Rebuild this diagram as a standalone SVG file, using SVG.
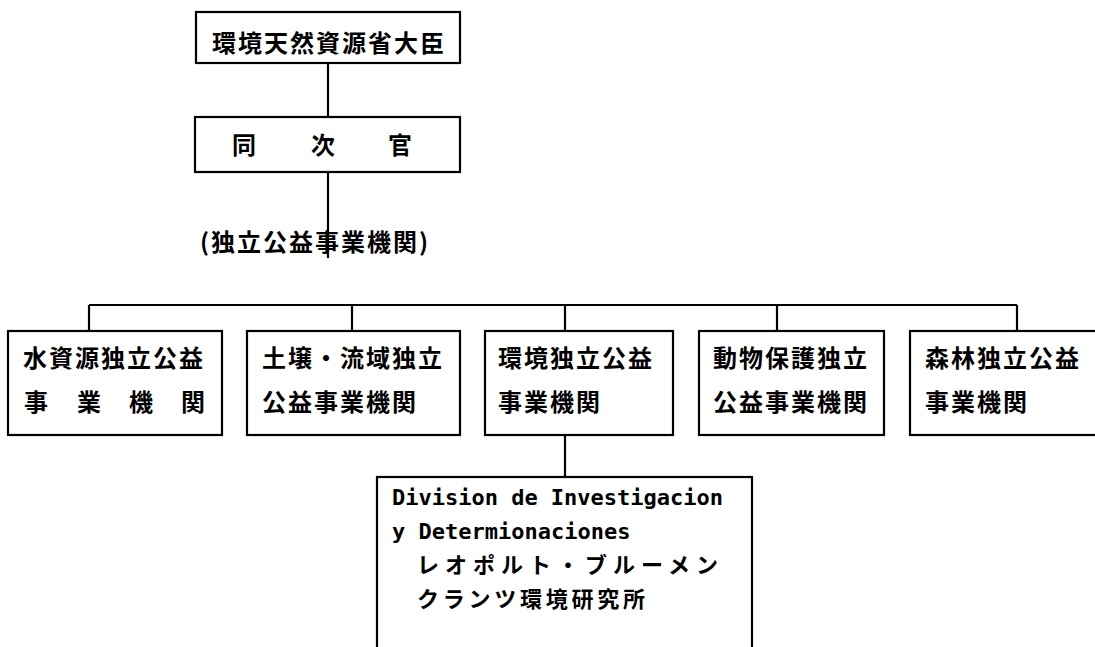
<svg xmlns="http://www.w3.org/2000/svg" width="1095" height="647" viewBox="0 0 1095 647">
<style>
.box{fill:#fff;stroke:#000;stroke-width:2.2}
.ln{stroke:#000;stroke-width:2.2;fill:none}
.jp{font-family:"Noto Sans CJK JP","Noto Sans CJK SC",sans-serif;font-size:24px;font-weight:700;letter-spacing:2px;fill:#000}
.jps{font-family:"Noto Sans CJK JP","Noto Sans CJK SC",sans-serif;font-size:22px;font-weight:700;fill:#000}
.lat{font-family:"DejaVu Sans Mono","Liberation Mono",monospace;font-size:22px;font-weight:700;fill:#000}
</style>
<rect width="1095" height="647" fill="#fff"/>
<g id="connectors">
<line class="ln" x1="328" y1="63" x2="328" y2="117"/>
<line class="ln" x1="328" y1="172" x2="328" y2="258"/>
<line class="ln" x1="89" y1="305" x2="1017" y2="305"/>
<line class="ln" x1="89" y1="305" x2="89" y2="331"/>
<line class="ln" x1="352" y1="305" x2="352" y2="331"/>
<line class="ln" x1="565" y1="305" x2="565" y2="331"/>
<line class="ln" x1="777" y1="305" x2="777" y2="331"/>
<line class="ln" x1="1017" y1="305" x2="1017" y2="331"/>
<line class="ln" x1="565" y1="435" x2="565" y2="477"/>
</g>
<g id="minister">
<rect class="box" x="196" y="12" width="264" height="51"/>
<text class="jp" x="212" y="52">環境天然資源省大臣</text>
</g>
<g id="vice">
<rect class="box" x="195" y="117" width="265" height="55"/>
<text class="jp" x="232 311 388" y="154" letter-spacing="0">同次官</text>
</g>
<g id="label">
<text class="jp" x="200" y="251">(独立公益事業機関)</text>
</g>
<g id="water">
<rect class="box" x="8" y="331" width="214" height="104"/>
<text class="jp" x="23" y="367">水資源独立公益</text>
<text class="jp" x="24 77 129 181" y="411" letter-spacing="0">事業機関</text>
</g>
<g id="soil">
<rect class="box" x="247" y="331" width="213" height="104"/>
<text class="jp" x="262" y="367">土壌・流域独立</text>
<text class="jp" x="262" y="411">公益事業機関</text>
</g>
<g id="env">
<rect class="box" x="485" y="331" width="188" height="104"/>
<text class="jp" x="498" y="367">環境独立公益</text>
<text class="jp" x="498" y="411">事業機関</text>
</g>
<g id="animal">
<rect class="box" x="699" y="331" width="185" height="104"/>
<text class="jp" x="713" y="367">動物保護独立</text>
<text class="jp" x="713" y="411">公益事業機関</text>
</g>
<g id="forest">
<rect class="box" x="910" y="331" width="190" height="104"/>
<text class="jp" x="925" y="367">森林独立公益</text>
<text class="jp" x="925" y="411">事業機関</text>
</g>
<g id="division">
<rect class="box" x="377" y="477" width="375" height="200"/>
<text class="lat" x="392" y="505" textLength="331" lengthAdjust="spacingAndGlyphs">Division de Investigacion</text>
<text class="lat" x="392" y="539">y Determionaciones</text>
<text class="jps" x="417" y="573" textLength="301" lengthAdjust="spacing">レオポルト・ブルーメン</text>
<text class="jps" x="417" y="607" textLength="228" lengthAdjust="spacing">クランツ環境研究所</text>
</g>
</svg>
